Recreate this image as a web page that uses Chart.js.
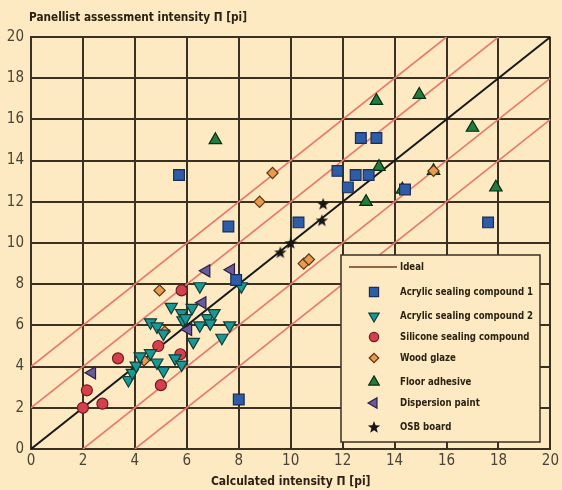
<!DOCTYPE html>
<html>
<head>
<meta charset="utf-8">
<script src="https://cdn.jsdelivr.net/npm/chart.js@4"></script>
<style>
  body { margin: 0; background: #FDEAC3; }
  canvas { display: block; }
</style>
</head>
<body>
<canvas id="intensityChart" width="562" height="490"></canvas>
<script>
// Panellist vs calculated intensity

const axisMin = 0;
const axisMax = 20;
const bandOffsets = [-4, -2, 2, 4];

const acrylic1 = [[5.7, 13.3], [7.6, 10.8], [8.0, 2.4], [7.9, 8.2], [10.3, 11.0], [12.7, 15.1], [13.3, 15.1],
  [11.8, 13.5], [12.5, 13.3], [13.0, 13.3], [12.2, 12.7], [14.4, 12.6], [17.6, 11.0]];
const acrylic2 = [[3.75, 3.35], [3.9, 3.7], [4.05, 4.05], [4.2, 4.5], [4.6, 4.65], [4.85, 4.2], [5.1, 3.8], [5.55, 4.4],
  [5.8, 4.1], [4.6, 6.15], [4.85, 5.95], [5.1, 5.6], [5.4, 6.9], [5.8, 6.6], [5.85, 6.25], [6.2, 6.85], [6.5, 7.9],
  [6.5, 6.0], [6.8, 6.35], [7.05, 6.6], [6.9, 6.1], [7.65, 6.0], [7.35, 5.4], [6.25, 5.2], [8.1, 7.9], [5.95, 6.35]];
const silicone = [[2.0, 2.0], [2.15, 2.85], [2.75, 2.2], [3.35, 4.4], [5.8, 7.7], [4.9, 5.0], [5.75, 4.6], [5.0, 3.1]];
const woodGlaze = [[4.95, 7.7], [5.15, 5.7], [4.35, 4.3], [8.8, 12.0], [9.3, 13.4], [10.5, 9.0], [10.7, 9.2], [15.5, 13.5]];
const floorAdhesive = [[7.1, 15.0], [13.3, 16.9], [14.95, 17.2], [17.0, 15.6], [17.9, 12.7], [14.3, 12.6], [15.5, 13.5],
  [13.4, 13.7], [12.9, 12.0]];
const dispersionPaint = [[2.35, 3.7], [6.75, 8.65], [7.7, 8.7], [6.6, 7.1], [6.05, 5.8]];
const osbBoard = [[9.6, 9.55], [10.0, 10.0], [11.2, 11.1], [11.25, 11.9]];

const toPoints = arr => arr.map(p => ({ x: p[0], y: p[1] }));

const fontFamily = "'Liberation Sans Narrow', 'DejaVu Sans Condensed', sans-serif";
const inkColor = '#2b2214';
const gridColor = '#3a3122';

// filled star used for the OSB board markers
const starImg = document.createElement('canvas');
starImg.width = 14;
starImg.height = 14;
(function () {
    const c = starImg.getContext('2d');
    c.fillStyle = '#161616';
    c.beginPath();
    for (let i = 0; i < 10; i++) {
        const r = i % 2 === 0 ? 6.5 : 2.7;
        const a = -Math.PI / 2 + i * Math.PI / 5;
        const px = 7 + r * Math.cos(a), py = 7.5 + r * Math.sin(a);
        if (i === 0) c.moveTo(px, py); else c.lineTo(px, py);
    }
    c.closePath();
    c.fill();
})();

function markerSet(label, data, style, fill, border, radius, rotation) {
    return {
        label: label,
        data: toPoints(data),
        pointStyle: style,
        rotation: rotation || 0,
        pointRadius: radius,
        pointHoverRadius: radius,
        backgroundColor: fill,
        borderColor: border,
        pointBorderWidth: 1.2,
        borderWidth: 1.2,
        order: 1
    };
}

const markerSets = [
    markerSet('Acrylic sealing compound 1', acrylic1, 'rect', '#2E5CA6', '#1b2c55', 7.6),
    markerSet('Acrylic sealing compound 2', acrylic2, 'triangle', '#1A9891', '#123c3a', 7.0, 180),
    markerSet('Silicone sealing compound', silicone, 'circle', '#D63F4B', '#6b1b22', 5.5),
    markerSet('Wood glaze', woodGlaze, 'rectRot', '#E89B4C', '#5e3414', 5.6),
    markerSet('Floor adhesive', floorAdhesive, 'triangle', '#1F7D3D', '#0b2a12', 7.2),
    markerSet('Dispersion paint', dispersionPaint, 'triangle', '#6A5A9C', '#2a2042', 7.0, 270),
    markerSet('OSB board', osbBoard, starImg, '#161616', '#161616', 7)
];

// ideal line and the bands parallel to it
const lineSets = [{
    type: 'line',
    label: 'Ideal',
    data: [{ x: axisMin, y: axisMin }, { x: axisMax, y: axisMax }],
    borderColor: '#181818',
    borderWidth: 2,
    pointRadius: 0,
    order: 5
}];
bandOffsets.forEach(off => {
    lineSets.push({
        type: 'line',
        label: 'band ' + off,
        data: [
            { x: Math.max(axisMin, axisMin - off), y: Math.max(axisMin, axisMin + off) },
            { x: Math.min(axisMax, axisMax - off), y: Math.min(axisMax, axisMax + off) }
        ],
        borderColor: '#E8796B',
        borderWidth: 1.6,
        pointRadius: 0,
        order: 6
    });
});

// condensed text: squeeze horizontally since no narrow font is guaranteed
function narrowText(ctx, text, x, y, squeeze) {
    ctx.save();
    ctx.translate(x, y);
    ctx.scale(squeeze, 1);
    ctx.fillText(text, 0, 0);
    ctx.restore();
}

// legend box in the lower right corner, drawn on the canvas
const boxLegend = {
    id: 'boxLegend',
    afterDraw(chart) {
        const ctx = chart.ctx;
        ctx.save();
        ctx.fillStyle = '#FDEAC3';
        ctx.strokeStyle = gridColor;
        ctx.lineWidth = 1.5;
        ctx.fillRect(341, 255, 199, 187);
        ctx.strokeRect(341, 255, 199, 187);

        ctx.font = 'bold 11px ' + fontFamily;
        ctx.textBaseline = 'middle';
        ctx.fillStyle = inkColor;

        ctx.strokeStyle = '#6e3426';
        ctx.lineWidth = 1.6;
        ctx.beginPath();
        ctx.moveTo(349, 267);
        ctx.lineTo(397, 267);
        ctx.stroke();
        narrowText(ctx, 'Ideal', 400, 267, 0.87);

        const rows = [292, 316, 337, 358, 382, 403, 427];
        markerSets.forEach((ds, i) => {
            ctx.fillStyle = ds.backgroundColor;
            ctx.strokeStyle = ds.borderColor;
            ctx.lineWidth = 1.2;
            Chart.helpers.drawPoint(ctx, {
                pointStyle: ds.pointStyle,
                rotation: ds.rotation,
                radius: ds.pointRadius * 0.85,
                borderWidth: 1.2
            }, 374, rows[i]);
            ctx.fillStyle = inkColor;
            narrowText(ctx, ds.label, 400, rows[i], 0.87);
        });

        // y axis caption at the top left
        ctx.font = 'bold 13px ' + fontFamily;
        narrowText(ctx, 'Panellist assessment intensity \u03A0 [pi]', 29, 18, 0.9);
        ctx.restore();
    }
};

const ctx1 = document.getElementById('intensityChart').getContext('2d');
new Chart(ctx1, {
    type: 'scatter',
    data: { datasets: markerSets.concat(lineSets) },
    plugins: [boxLegend],
    options: {
        responsive: false,
        animation: false,
        layout: { padding: { top: 37, right: 11, left: 0, bottom: 0 } },
        plugins: {
            legend: { display: false },
            tooltip: { enabled: false }
        },
        scales: {
            x: {
                min: axisMin,
                max: axisMax,
                afterFit: scale => { scale.height = 41; },
                ticks: { stepSize: 2, padding: 3, color: '#4a4436', font: { family: fontFamily, size: 15 } },
                grid: { color: gridColor, lineWidth: 2, drawTicks: false },
                border: { color: gridColor, width: 2 },
                title: {
                    display: true,
                    text: 'Calculated intensity \u03A0 [pi]',
                    color: inkColor,
                    font: { family: fontFamily, size: 12, weight: 'bold' },
                    padding: { top: 0, bottom: 1 }
                }
            },
            y: {
                min: axisMin,
                max: axisMax,
                afterFit: scale => { scale.width = 31; },
                ticks: { stepSize: 2, padding: 7, color: '#4a4436', font: { family: fontFamily, size: 15 } },
                grid: { color: gridColor, lineWidth: 2, drawTicks: false },
                border: { color: gridColor, width: 2 }
            }
        }
    }
});
</script>
</body>
</html>
